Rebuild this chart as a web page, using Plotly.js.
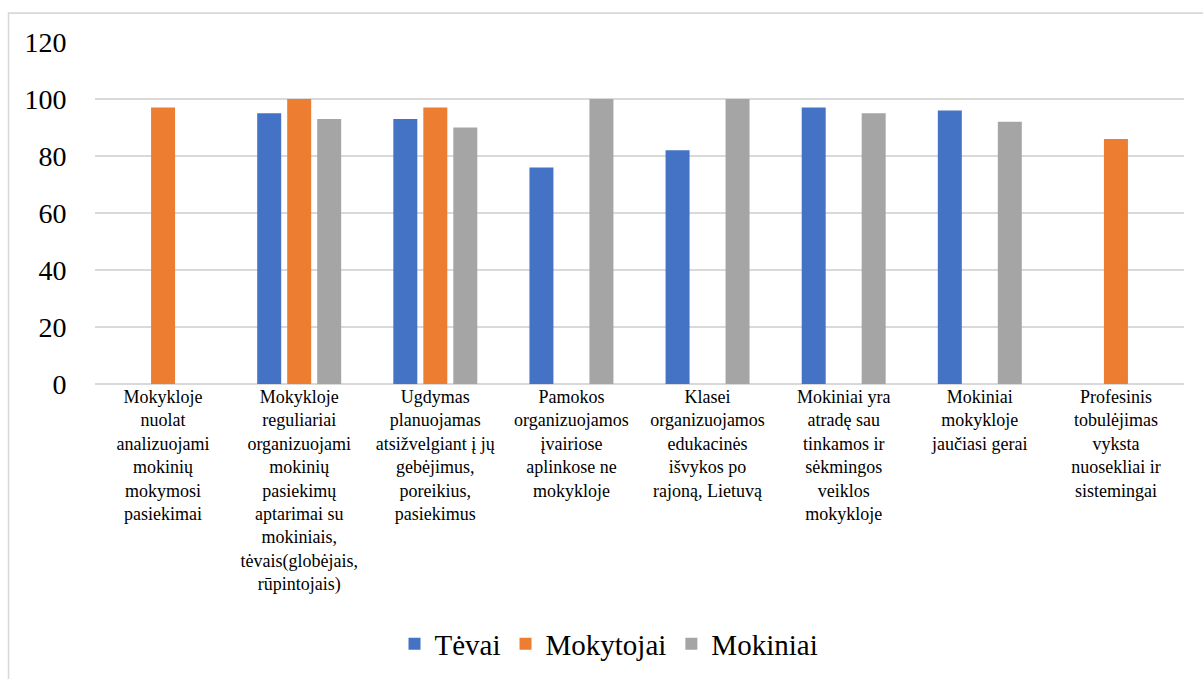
<!DOCTYPE html>
<html>
<head>
<meta charset="utf-8">
<script src="https://cdn.plot.ly/plotly-3.0.1.min.js"></script>
<style>
html,body{margin:0;padding:0;background:#fff;}
#chart{width:1203px;height:679px;}
</style>
</head>
<body>
<div id="chart"></div>
<script>
const categories = [
  "Mokykloje<br>nuolat<br>analizuojami<br>mokinių<br>mokymosi<br>pasiekimai",
  "Mokykloje<br>reguliariai<br>organizuojami<br>mokinių<br>pasiekimų<br>aptarimai su<br>mokiniais,<br>tėvais(globėjais,<br>rūpintojais)",
  "Ugdymas<br>planuojamas<br>atsižvelgiant į jų<br>gebėjimus,<br>poreikius,<br>pasiekimus",
  "Pamokos<br>organizuojamos<br>įvairiose<br>aplinkose ne<br>mokykloje",
  "Klasei<br>organizuojamos<br>edukacinės<br>išvykos po<br>rajoną, Lietuvą",
  "Mokiniai yra<br>atradę sau<br>tinkamos ir<br>sėkmingos<br>veiklos<br>mokykloje",
  "Mokiniai<br>mokykloje<br>jaučiasi gerai",
  "Profesinis<br>tobulėjimas<br>vyksta<br>nuosekliai ir<br>sistemingai"
];
const tevai     = [null, 95, 93, 76, 82, 97, 96, null];
const mokytojai = [97, 100, 97, null, null, null, null, 86];
const mokiniai  = [null, 93, 90, 100, 100, 95, 92, null];
const seriesNames = ["Tėvai", "Mokytojai", "Mokiniai"];
const yTicks = [0, 20, 40, 60, 80, 100, 120];

const traces = [
  {type:'bar', name:seriesNames[0], x:categories, y:tevai, marker:{color:'#4472C4'}},
  {type:'bar', name:seriesNames[1], x:categories, y:mokytojai, marker:{color:'#ED7D31'}},
  {type:'bar', name:seriesNames[2], x:categories, y:mokiniai, marker:{color:'#A5A5A5'}}
];

const layout = {
  width:1203, height:679,
  margin:{l:95, r:19, t:42, b:294, pad:0},
  barmode:'group',
  bargap:0.339,
  bargroupgap:0.2,
  font:{family:'Liberation Serif', size:18, color:'#000000'},
  showlegend:true,
  legend:{
    orientation:'h', x:0.472, xanchor:'center', y:-0.755, yanchor:'middle',
    font:{size:29}, itemwidth:30, traceorder:'normal'
  },
  xaxis:{
    type:'category', showgrid:false, zeroline:false, showline:false, ticks:'',
    tickangle:0, automargin:false,
    tickfont:{size:18}
  },
  yaxis:{
    range:[0,120], tickvals:yTicks,
    showgrid:true, gridcolor:'#d9d9d9', gridwidth:1.5,
    zeroline:true, zerolinecolor:'#d9d9d9', zerolinewidth:1.5,
    showline:false, ticks:'outside', ticklen:22, tickcolor:'rgba(0,0,0,0)', automargin:false,
    tickfont:{size:28}
  },
  shapes:[{
    type:'rect', xref:'paper', yref:'paper',
    x0:-0.0794, x1:1.3, y0:-1.5, y1:1.0845,
    line:{color:'#d9d9d9', width:1.6}, fillcolor:'rgba(0,0,0,0)', layer:'below'
  }]
};

Plotly.newPlot('chart', traces, layout, {staticPlot:true});
</script>
</body>
</html>
